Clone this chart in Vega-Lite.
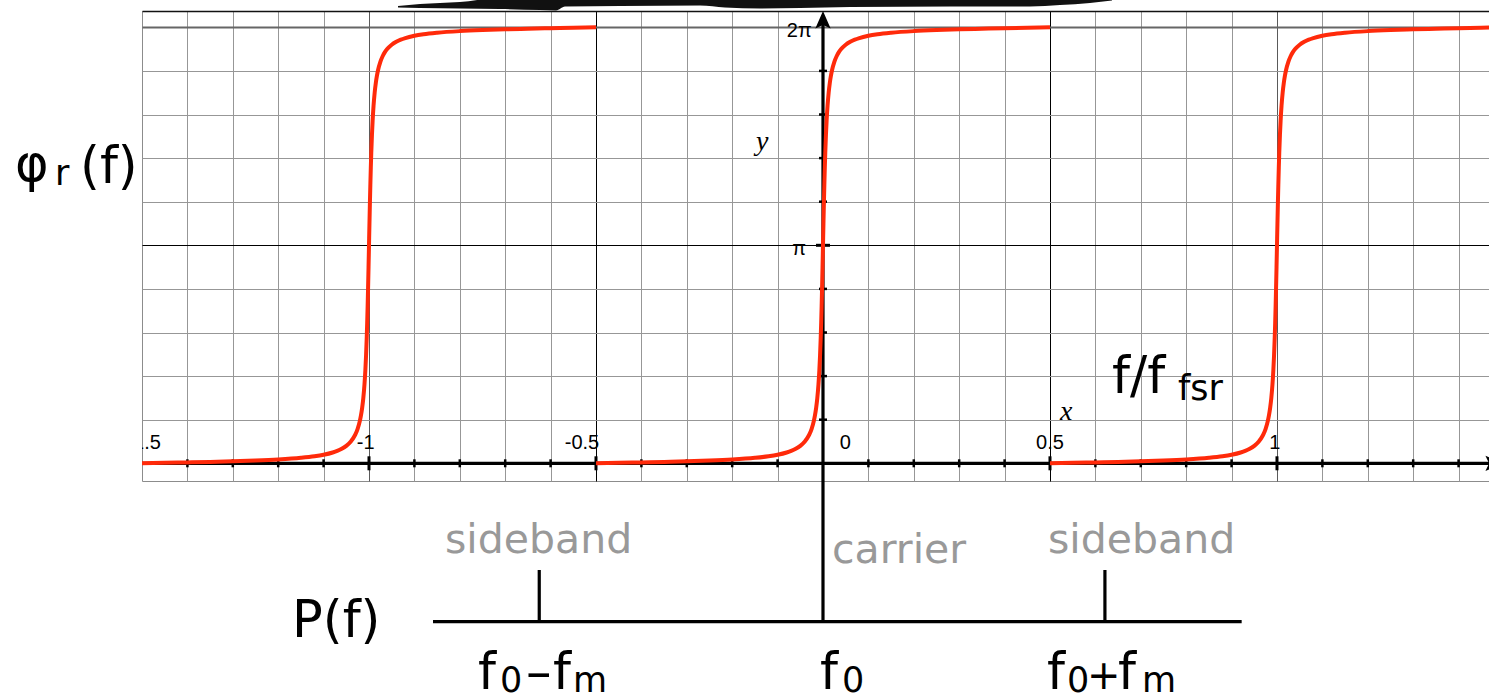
{
  "$schema": "https://vega.github.io/schema/vega-lite/v6.json",
  "width": 1347,
  "height": 470,
  "autosize": {"type": "none"},
  "padding": {"left": 142, "top": 11, "right": 0, "bottom": 215},
  "background": "white",
  "config": {"view": {"stroke": "#8c8c8c", "strokeWidth": 1}},
  "datasets": {
    "phase": [
      {"seg": "L", "x": -1.5, "y": 0}, {"seg": "L", "x": -1.45, "y": 0.002}, {"seg": "L", "x": -1.4, "y": 0.0041}, {"seg": "L", "x": -1.35, "y": 0.0065},
      {"seg": "L", "x": -1.3, "y": 0.0093}, {"seg": "L", "x": -1.25, "y": 0.0127}, {"seg": "L", "x": -1.2, "y": 0.0175}, {"seg": "L", "x": -1.15, "y": 0.025},
      {"seg": "L", "x": -1.12, "y": 0.0321}, {"seg": "L", "x": -1.1, "y": 0.0391}, {"seg": "L", "x": -1.08, "y": 0.0495}, {"seg": "L", "x": -1.07, "y": 0.0568},
      {"seg": "L", "x": -1.06, "y": 0.0665}, {"seg": "L", "x": -1.05, "y": 0.08}, {"seg": "L", "x": -1.04, "y": 0.1}, {"seg": "L", "x": -1.035, "y": 0.1141},
      {"seg": "L", "x": -1.03, "y": 0.1327}, {"seg": "L", "x": -1.025, "y": 0.1584}, {"seg": "L", "x": -1.02, "y": 0.1959}, {"seg": "L", "x": -1.0175, "y": 0.2219},
      {"seg": "L", "x": -1.015, "y": 0.2554}, {"seg": "L", "x": -1.0125, "y": 0.2997}, {"seg": "L", "x": -1.01, "y": 0.3608}, {"seg": "L", "x": -1.008, "y": 0.4278},
      {"seg": "L", "x": -1.0065, "y": 0.4933}, {"seg": "L", "x": -1.005, "y": 0.5761}, {"seg": "L", "x": -1.004, "y": 0.6429}, {"seg": "L", "x": -1.003, "y": 0.7196},
      {"seg": "L", "x": -1.002, "y": 0.8062}, {"seg": "L", "x": -1.001, "y": 0.9008}, {"seg": "L", "x": -1, "y": 1}, {"seg": "L", "x": -0.999, "y": 1.0992},
      {"seg": "L", "x": -0.998, "y": 1.1938}, {"seg": "L", "x": -0.997, "y": 1.2804}, {"seg": "L", "x": -0.996, "y": 1.3571}, {"seg": "L", "x": -0.995, "y": 1.4239},
      {"seg": "L", "x": -0.9935, "y": 1.5067}, {"seg": "L", "x": -0.992, "y": 1.5722}, {"seg": "L", "x": -0.99, "y": 1.6392}, {"seg": "L", "x": -0.9875, "y": 1.7003},
      {"seg": "L", "x": -0.985, "y": 1.7446}, {"seg": "L", "x": -0.9825, "y": 1.7781}, {"seg": "L", "x": -0.98, "y": 1.8041}, {"seg": "L", "x": -0.975, "y": 1.8416},
      {"seg": "L", "x": -0.97, "y": 1.8673}, {"seg": "L", "x": -0.965, "y": 1.8859}, {"seg": "L", "x": -0.96, "y": 1.9}, {"seg": "L", "x": -0.95, "y": 1.92},
      {"seg": "L", "x": -0.94, "y": 1.9335}, {"seg": "L", "x": -0.93, "y": 1.9432}, {"seg": "L", "x": -0.92, "y": 1.9505}, {"seg": "L", "x": -0.9, "y": 1.9609},
      {"seg": "L", "x": -0.88, "y": 1.9679}, {"seg": "L", "x": -0.85, "y": 1.975}, {"seg": "L", "x": -0.8, "y": 1.9825}, {"seg": "L", "x": -0.75, "y": 1.9873},
      {"seg": "L", "x": -0.7, "y": 1.9907}, {"seg": "L", "x": -0.65, "y": 1.9935}, {"seg": "L", "x": -0.6, "y": 1.9959}, {"seg": "L", "x": -0.55, "y": 1.998},
      {"seg": "L", "x": -0.5, "y": 2},

      {"seg": "M", "x": -0.5, "y": 0}, {"seg": "M", "x": -0.45, "y": 0.002}, {"seg": "M", "x": -0.4, "y": 0.0041}, {"seg": "M", "x": -0.35, "y": 0.0065},
      {"seg": "M", "x": -0.3, "y": 0.0093}, {"seg": "M", "x": -0.25, "y": 0.0127}, {"seg": "M", "x": -0.2, "y": 0.0175}, {"seg": "M", "x": -0.15, "y": 0.025},
      {"seg": "M", "x": -0.12, "y": 0.0321}, {"seg": "M", "x": -0.1, "y": 0.0391}, {"seg": "M", "x": -0.08, "y": 0.0495}, {"seg": "M", "x": -0.07, "y": 0.0568},
      {"seg": "M", "x": -0.06, "y": 0.0665}, {"seg": "M", "x": -0.05, "y": 0.08}, {"seg": "M", "x": -0.04, "y": 0.1}, {"seg": "M", "x": -0.035, "y": 0.1141},
      {"seg": "M", "x": -0.03, "y": 0.1327}, {"seg": "M", "x": -0.025, "y": 0.1584}, {"seg": "M", "x": -0.02, "y": 0.1959}, {"seg": "M", "x": -0.0175, "y": 0.2219},
      {"seg": "M", "x": -0.015, "y": 0.2554}, {"seg": "M", "x": -0.0125, "y": 0.2997}, {"seg": "M", "x": -0.01, "y": 0.3608}, {"seg": "M", "x": -0.008, "y": 0.4278},
      {"seg": "M", "x": -0.0065, "y": 0.4933}, {"seg": "M", "x": -0.005, "y": 0.5761}, {"seg": "M", "x": -0.004, "y": 0.6429}, {"seg": "M", "x": -0.003, "y": 0.7196},
      {"seg": "M", "x": -0.002, "y": 0.8062}, {"seg": "M", "x": -0.001, "y": 0.9008}, {"seg": "M", "x": 0, "y": 1}, {"seg": "M", "x": 0.001, "y": 1.0992},
      {"seg": "M", "x": 0.002, "y": 1.1938}, {"seg": "M", "x": 0.003, "y": 1.2804}, {"seg": "M", "x": 0.004, "y": 1.3571}, {"seg": "M", "x": 0.005, "y": 1.4239},
      {"seg": "M", "x": 0.0065, "y": 1.5067}, {"seg": "M", "x": 0.008, "y": 1.5722}, {"seg": "M", "x": 0.01, "y": 1.6392}, {"seg": "M", "x": 0.0125, "y": 1.7003},
      {"seg": "M", "x": 0.015, "y": 1.7446}, {"seg": "M", "x": 0.0175, "y": 1.7781}, {"seg": "M", "x": 0.02, "y": 1.8041}, {"seg": "M", "x": 0.025, "y": 1.8416},
      {"seg": "M", "x": 0.03, "y": 1.8673}, {"seg": "M", "x": 0.035, "y": 1.8859}, {"seg": "M", "x": 0.04, "y": 1.9}, {"seg": "M", "x": 0.05, "y": 1.92},
      {"seg": "M", "x": 0.06, "y": 1.9335}, {"seg": "M", "x": 0.07, "y": 1.9432}, {"seg": "M", "x": 0.08, "y": 1.9505}, {"seg": "M", "x": 0.1, "y": 1.9609},
      {"seg": "M", "x": 0.12, "y": 1.9679}, {"seg": "M", "x": 0.15, "y": 1.975}, {"seg": "M", "x": 0.2, "y": 1.9825}, {"seg": "M", "x": 0.25, "y": 1.9873},
      {"seg": "M", "x": 0.3, "y": 1.9907}, {"seg": "M", "x": 0.35, "y": 1.9935}, {"seg": "M", "x": 0.4, "y": 1.9959}, {"seg": "M", "x": 0.45, "y": 1.998},
      {"seg": "M", "x": 0.5, "y": 2},

      {"seg": "R", "x": 0.5, "y": 0}, {"seg": "R", "x": 0.55, "y": 0.002}, {"seg": "R", "x": 0.6, "y": 0.0041}, {"seg": "R", "x": 0.65, "y": 0.0065},
      {"seg": "R", "x": 0.7, "y": 0.0093}, {"seg": "R", "x": 0.75, "y": 0.0127}, {"seg": "R", "x": 0.8, "y": 0.0175}, {"seg": "R", "x": 0.85, "y": 0.025},
      {"seg": "R", "x": 0.88, "y": 0.0321}, {"seg": "R", "x": 0.9, "y": 0.0391}, {"seg": "R", "x": 0.92, "y": 0.0495}, {"seg": "R", "x": 0.93, "y": 0.0568},
      {"seg": "R", "x": 0.94, "y": 0.0665}, {"seg": "R", "x": 0.95, "y": 0.08}, {"seg": "R", "x": 0.96, "y": 0.1}, {"seg": "R", "x": 0.965, "y": 0.1141},
      {"seg": "R", "x": 0.97, "y": 0.1327}, {"seg": "R", "x": 0.975, "y": 0.1584}, {"seg": "R", "x": 0.98, "y": 0.1959}, {"seg": "R", "x": 0.9825, "y": 0.2219},
      {"seg": "R", "x": 0.985, "y": 0.2554}, {"seg": "R", "x": 0.9875, "y": 0.2997}, {"seg": "R", "x": 0.99, "y": 0.3608}, {"seg": "R", "x": 0.992, "y": 0.4278},
      {"seg": "R", "x": 0.9935, "y": 0.4933}, {"seg": "R", "x": 0.995, "y": 0.5761}, {"seg": "R", "x": 0.996, "y": 0.6429}, {"seg": "R", "x": 0.997, "y": 0.7196},
      {"seg": "R", "x": 0.998, "y": 0.8062}, {"seg": "R", "x": 0.999, "y": 0.9008}, {"seg": "R", "x": 1, "y": 1}, {"seg": "R", "x": 1.001, "y": 1.0992},
      {"seg": "R", "x": 1.002, "y": 1.1938}, {"seg": "R", "x": 1.003, "y": 1.2804}, {"seg": "R", "x": 1.004, "y": 1.3571}, {"seg": "R", "x": 1.005, "y": 1.4239},
      {"seg": "R", "x": 1.0065, "y": 1.5067}, {"seg": "R", "x": 1.008, "y": 1.5722}, {"seg": "R", "x": 1.01, "y": 1.6392}, {"seg": "R", "x": 1.0125, "y": 1.7003},
      {"seg": "R", "x": 1.015, "y": 1.7446}, {"seg": "R", "x": 1.0175, "y": 1.7781}, {"seg": "R", "x": 1.02, "y": 1.8041}, {"seg": "R", "x": 1.025, "y": 1.8416},
      {"seg": "R", "x": 1.03, "y": 1.8673}, {"seg": "R", "x": 1.035, "y": 1.8859}, {"seg": "R", "x": 1.04, "y": 1.9}, {"seg": "R", "x": 1.05, "y": 1.92},
      {"seg": "R", "x": 1.06, "y": 1.9335}, {"seg": "R", "x": 1.07, "y": 1.9432}, {"seg": "R", "x": 1.08, "y": 1.9505}, {"seg": "R", "x": 1.1, "y": 1.9609},
      {"seg": "R", "x": 1.12, "y": 1.9679}, {"seg": "R", "x": 1.15, "y": 1.975}, {"seg": "R", "x": 1.2, "y": 1.9825}, {"seg": "R", "x": 1.25, "y": 1.9873},
      {"seg": "R", "x": 1.3, "y": 1.9907}, {"seg": "R", "x": 1.35, "y": 1.9935}, {"seg": "R", "x": 1.4, "y": 1.9959}, {"seg": "R", "x": 1.45, "y": 1.998},
      {"seg": "R", "x": 1.5, "y": 2}
    ],
    "brush": [
      {"x": -0.9361, "y": 2.0977, "y2": 2.0908},
      {"x": -0.8877, "y": 2.1069, "y2": 2.0885},
      {"x": -0.7996, "y": 2.1161, "y2": 2.0862},
      {"x": -0.7115, "y": 2.1344, "y2": 2.0839},
      {"x": -0.6233, "y": 2.1344, "y2": 2.0794},
      {"x": -0.5881, "y": 2.1344, "y2": 2.0771},
      {"x": -0.5683, "y": 2.1344, "y2": 2.0954},
      {"x": -0.4471, "y": 2.1344, "y2": 2.0977},
      {"x": -0.2709, "y": 2.1344, "y2": 2.1},
      {"x": -0.2159, "y": 2.1344, "y2": 2.0908},
      {"x": -0.1388, "y": 2.1344, "y2": 2.0862},
      {"x": -0.0507, "y": 2.1344, "y2": 2.0885},
      {"x": 0.0595, "y": 2.1344, "y2": 2.0931},
      {"x": 0.2797, "y": 2.1344, "y2": 2.0954},
      {"x": 0.4559, "y": 2.1344, "y2": 2.0954},
      {"x": 0.522, "y": 2.1344, "y2": 2.1023},
      {"x": 0.5881, "y": 2.1344, "y2": 2.1115},
      {"x": 0.6366, "y": 2.1344, "y2": 2.1229}
    ],
    "lines": [
      {"name": "f axis", "x": -1.5, "x2": 1.47, "y": 0, "y2": 0},
      {"name": "phase axis", "x": 0, "x2": 0, "y": -0.0812, "y2": 2.02},
      {"name": "carrier", "x": 0, "x2": 0, "y": -0.7266, "y2": -0.0812},
      {"name": "spectrum baseline", "x": -0.859, "x2": 0.9222, "y": -0.7266, "y2": -0.7266},
      {"name": "lower sideband", "x": -0.625, "x2": -0.625, "y": -0.7266, "y2": -0.4894},
      {"name": "upper sideband", "x": 0.621, "x2": 0.621, "y": -0.7266, "y2": -0.4894}
    ],
    "arrows": [
      {"axis": "y", "x": 0, "y": 2.0335},
      {"axis": "x", "x": 1.478, "y": 0}
    ],
    "xTicks": [
      {"x": -1.4, "y": 0}, {"x": -1.3, "y": 0}, {"x": -1.2, "y": 0}, {"x": -1.1, "y": 0},
      {"x": -0.9, "y": 0}, {"x": -0.8, "y": 0}, {"x": -0.7, "y": 0}, {"x": -0.6, "y": 0},
      {"x": -0.4, "y": 0}, {"x": -0.3, "y": 0}, {"x": -0.2, "y": 0}, {"x": -0.1, "y": 0},
      {"x": 0.1, "y": 0}, {"x": 0.2, "y": 0}, {"x": 0.3, "y": 0}, {"x": 0.4, "y": 0},
      {"x": 0.6, "y": 0}, {"x": 0.7, "y": 0}, {"x": 0.8, "y": 0}, {"x": 0.9, "y": 0},
      {"x": 1.1, "y": 0}, {"x": 1.2, "y": 0}, {"x": 1.3, "y": 0}, {"x": 1.4, "y": 0}
    ],
    "xTicksMajor": [
      {"x": -1, "y": 0}, {"x": -0.5, "y": 0}, {"x": 0.5, "y": 0}, {"x": 1, "y": 0}
    ],
    "yTicks": [
      {"x": 0, "y": 0.2}, {"x": 0, "y": 0.4}, {"x": 0, "y": 0.6}, {"x": 0, "y": 0.8},
      {"x": 0, "y": 1.2}, {"x": 0, "y": 1.4}, {"x": 0, "y": 1.6}, {"x": 0, "y": 1.8}
    ],
    "yTicksMajor": [
      {"x": 0, "y": 1}
    ],
    "xLabels": [
      {"x": -1.4965, "y": 0.067, "text": "-1.5"},
      {"x": -1.0073, "y": 0.067, "text": "-1"},
      {"x": -0.5308, "y": 0.067, "text": "-0.5"},
      {"x": 0.049, "y": 0.067, "text": "0"},
      {"x": 0.5, "y": 0.067, "text": "0.5"},
      {"x": 0.995, "y": 0.067, "text": "1"}
    ],
    "yLabels": [
      {"x": -0.0374, "y": 0.9555, "text": "π"},
      {"x": -0.0247, "y": 1.957, "text": "2π"}
    ],
    "axisNames": [
      {"x": -0.134, "y": 1.437, "text": "y"},
      {"x": 0.536, "y": 0.199, "text": "x"}
    ],
    "bigText": [
      {"x": -1.7797, "y": 1.295, "text": "φ"},
      {"x": -1.6366, "y": 1.2858, "text": "(f)"},
      {"x": 0.6366, "y": 0.3225, "text": "f/f"},
      {"x": -1.1696, "y": -0.7968, "text": "P(f)"},
      {"x": -0.7599, "y": -1.0349, "text": "f"},
      {"x": -0.6542, "y": -1.0349, "text": "–"},
      {"x": -0.5947, "y": -1.0349, "text": "f"},
      {"x": -0.0066, "y": -1.0349, "text": "f"},
      {"x": 0.4934, "y": -1.0349, "text": "f"},
      {"x": 0.6498, "y": -1.0349, "text": "f"}
    ],
    "operators": [
      {"x": 0.5815, "y": -1.0349, "text": "+"}
    ],
    "subText": [
      {"x": -1.6916, "y": 1.2766, "text": "r"},
      {"x": 0.7819, "y": 0.2904, "text": "fsr"},
      {"x": -0.7115, "y": -1.0486, "text": "0"},
      {"x": -0.5507, "y": -1.0486, "text": "m"},
      {"x": 0.0419, "y": -1.0486, "text": "0"},
      {"x": 0.5374, "y": -1.0486, "text": "0"},
      {"x": 0.7026, "y": -1.0486, "text": "m"}
    ],
    "spectrumNames": [
      {"x": -0.8326, "y": -0.4115, "text": "sideband"},
      {"x": 0.0198, "y": -0.4573, "text": "carrier"},
      {"x": 0.4956, "y": -0.4115, "text": "sideband"}
    ]
  },
  "encoding": {
    "x": {
      "field": "x",
      "type": "quantitative",
      "scale": {"domain": [-1.5, 1.467], "nice": false, "zero": false},
      "axis": {
        "orient": "top",
        "title": null,
        "labels": false,
        "ticks": false,
        "domain": true,
        "domainColor": "#111111",
        "domainWidth": 1.5,
        "grid": true,
        "gridWidth": 1,
        "gridOpacity": 1,
        "values": [-1.4, -1.3, -1.2, -1.1, -1, -0.9, -0.8, -0.7, -0.6, -0.5, -0.4, -0.3, -0.2, -0.1, 0.1, 0.2, 0.3, 0.4, 0.5, 0.6, 0.7, 0.8, 0.9, 1, 1.1, 1.2, 1.3, 1.4],
        "gridColor": {
          "condition": [
            {"test": "abs(datum.value) == 0.5", "value": "#000000"},
            {"test": "abs(datum.value) == 1", "value": "#5a5a5a"}
          ],
          "value": "#979797"
        }
      }
    },
    "y": {
      "field": "y",
      "type": "quantitative",
      "scale": {"domain": [-0.0812, 2.0748], "nice": false, "zero": false},
      "axis": {
        "orient": "left",
        "title": null,
        "labels": false,
        "ticks": false,
        "domain": false,
        "grid": true,
        "gridOpacity": 1,
        "values": [0.2, 0.4, 0.6, 0.8, 1, 1.2, 1.4, 1.6, 1.8, 2],
        "gridColor": {
          "condition": [
            {"test": "datum.value == 1", "value": "#000000"},
            {"test": "datum.value == 2", "value": "#666666"}
          ],
          "value": "#979797"
        },
        "gridWidth": {"condition": {"test": "datum.value == 2", "value": 1.8}, "value": 1}
      }
    }
  },
  "layer": [
    {
      "data": {"name": "brush"},
      "mark": {"type": "area", "color": "#111111", "interpolate": "monotone"},
      "encoding": {"y2": {"field": "y2"}}
    },
    {
      "data": {"name": "lines"},
      "mark": {"type": "rule", "color": "#000000", "strokeWidth": 3.2},
      "encoding": {"x2": {"field": "x2"}, "y2": {"field": "y2"}}
    },
    {
      "data": {"name": "arrows"},
      "transform": [{"filter": "datum.axis == 'y'"}],
      "mark": {"type": "point", "shape": "M0,-1L0.85,0.95L0,0.55L-0.85,0.95Z", "filled": true, "color": "#000000", "opacity": 1, "size": 324}
    },
    {
      "data": {"name": "arrows"},
      "transform": [{"filter": "datum.axis == 'x'"}],
      "mark": {"type": "point", "shape": "M1,0L-0.95,0.85L-0.55,0L-0.95,-0.85Z", "filled": true, "color": "#000000", "opacity": 1, "size": 324}
    },
    {
      "data": {"name": "xTicks"},
      "mark": {"type": "point", "shape": "M0,-1L0,1", "filled": false, "color": "#000000", "opacity": 1, "strokeWidth": 2.5, "size": 64}
    },
    {
      "data": {"name": "xTicksMajor"},
      "mark": {"type": "point", "shape": "M0,-1L0,1", "filled": false, "color": "#000000", "opacity": 1, "strokeWidth": 3, "size": 196}
    },
    {
      "data": {"name": "yTicks"},
      "mark": {"type": "point", "shape": "M-1,0L1,0", "filled": false, "color": "#000000", "opacity": 1, "strokeWidth": 2.5, "size": 64}
    },
    {
      "data": {"name": "yTicksMajor"},
      "mark": {"type": "point", "shape": "M-1,0L1,0", "filled": false, "color": "#000000", "opacity": 1, "strokeWidth": 3, "size": 196}
    },
    {
      "data": {"name": "phase"},
      "mark": {"type": "line", "color": "#ff2a0a", "strokeWidth": 4, "interpolate": "monotone", "clip": true},
      "encoding": {"detail": {"field": "seg"}}
    },
    {
      "data": {"name": "xLabels"},
      "mark": {"type": "text", "font": "Liberation Sans", "fontSize": 20, "color": "#000000", "align": "center", "baseline": "alphabetic", "clip": true},
      "encoding": {"text": {"field": "text"}}
    },
    {
      "data": {"name": "yLabels"},
      "mark": {"type": "text", "font": "Liberation Sans", "fontSize": 20, "color": "#000000", "align": "right", "baseline": "alphabetic"},
      "encoding": {"text": {"field": "text"}}
    },
    {
      "data": {"name": "axisNames"},
      "mark": {"type": "text", "font": "Liberation Serif", "fontStyle": "italic", "fontSize": 28, "color": "#000000", "align": "center", "baseline": "alphabetic"},
      "encoding": {"text": {"field": "text"}}
    },
    {
      "data": {"name": "bigText"},
      "mark": {"type": "text", "font": "DejaVu Sans", "fontSize": 51, "color": "#000000", "align": "left", "baseline": "alphabetic"},
      "encoding": {"text": {"field": "text"}}
    },
    {
      "data": {"name": "operators"},
      "mark": {"type": "text", "font": "DejaVu Sans", "fontSize": 40, "color": "#000000", "align": "left", "baseline": "alphabetic"},
      "encoding": {"text": {"field": "text"}}
    },
    {
      "data": {"name": "subText"},
      "mark": {"type": "text", "font": "DejaVu Sans", "fontSize": 35, "color": "#000000", "align": "left", "baseline": "alphabetic"},
      "encoding": {"text": {"field": "text"}}
    },
    {
      "data": {"name": "spectrumNames"},
      "mark": {"type": "text", "font": "DejaVu Sans", "fontSize": 41, "color": "#999999", "align": "left", "baseline": "alphabetic"},
      "encoding": {"text": {"field": "text"}}
    }
  ]
}
